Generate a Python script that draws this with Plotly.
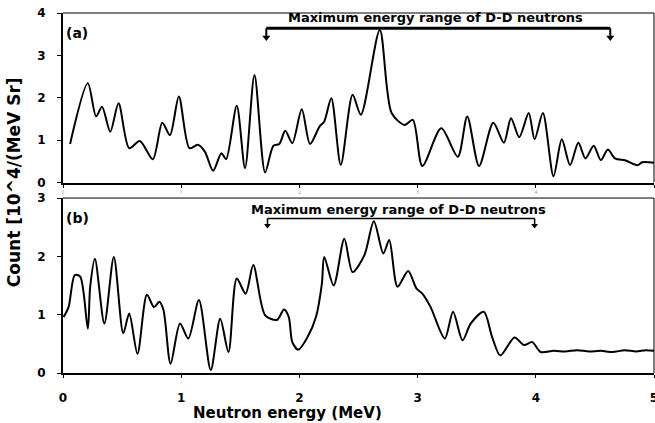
import plotly.graph_objects as go

# Panel (a) spectrum
xa = [0.06, 0.21, 0.28, 0.33, 0.40, 0.47, 0.56, 0.65, 0.76, 0.84, 0.905, 0.98, 1.07, 1.14, 1.20,
      1.27, 1.34, 1.38, 1.47, 1.54, 1.62, 1.71, 1.78, 1.83, 1.88, 1.94, 2.02, 2.09, 2.17, 2.21,
      2.27, 2.35, 2.45, 2.52, 2.68, 2.78, 2.89, 2.96, 3.04, 3.20, 3.34, 3.42, 3.52, 3.64, 3.73,
      3.79, 3.86, 3.94, 3.99, 4.06, 4.15, 4.22, 4.29, 4.36, 4.42, 4.49, 4.55, 4.61, 4.67, 4.76,
      4.86, 4.90, 5.00]
ya = [0.91, 2.34, 1.56, 1.79, 1.20, 1.87, 0.81, 0.98, 0.55, 1.41, 1.12, 2.03, 0.81, 0.89, 0.73,
      0.28, 0.69, 0.55, 1.81, 0.34, 2.54, 0.24, 0.87, 0.91, 1.22, 0.93, 1.73, 0.91, 1.32, 1.44,
      1.99, 0.42, 2.07, 1.60, 3.60, 1.64, 1.36, 1.48, 0.39, 1.28, 0.61, 1.56, 0.39, 1.41, 0.94,
      1.52, 1.07, 1.64, 1.02, 1.64, 0.15, 1.02, 0.41, 0.94, 0.57, 0.87, 0.53, 0.78, 0.57, 0.52,
      0.41, 0.48, 0.47]

# Panel (b) spectrum
xb = [0.005, 0.047, 0.10, 0.146, 0.21, 0.23, 0.27, 0.35, 0.43, 0.51, 0.56, 0.63, 0.71, 0.77,
      0.815, 0.85, 0.91, 0.99, 1.06, 1.15, 1.25, 1.33, 1.40, 1.47, 1.545, 1.61, 1.71, 1.81,
      1.87, 1.91, 1.94, 1.99, 2.07, 2.14, 2.19, 2.21, 2.29, 2.38, 2.45, 2.55, 2.63, 2.71,
      2.76, 2.83, 2.92, 2.99, 3.04, 3.11, 3.23, 3.30, 3.38, 3.45, 3.56, 3.63, 3.70, 3.82,
      3.90, 3.97, 4.04, 4.15, 4.25, 4.35, 4.45, 4.55, 4.65, 4.75, 4.85, 4.93, 5.00]
yb = [0.96, 1.13, 1.68, 1.65, 0.76, 1.48, 1.96, 0.85, 1.99, 0.68, 1.02, 0.33, 1.34, 1.13,
      1.22, 1.08, 0.16, 0.85, 0.59, 1.25, 0.05, 0.93, 0.36, 1.62, 1.36, 1.85, 0.99, 0.91,
      1.09, 0.96, 0.53, 0.40, 0.62, 0.96, 1.53, 1.99, 1.50, 2.30, 1.73, 2.02, 2.60, 2.05,
      2.28, 1.48, 1.75, 1.45, 1.36, 1.13, 0.59, 1.05, 0.56, 0.85, 1.05, 0.62, 0.30, 0.61,
      0.48, 0.53, 0.36, 0.38, 0.37, 0.39, 0.37, 0.38, 0.36, 0.39, 0.37, 0.39, 0.38]

x_ticks = [0, 1, 2, 3, 4, 5]
ya_ticks = [0, 1, 2, 3, 4]
yb_ticks = [0, 1, 2, 3]

label = "Maximum energy range of D-D neutrons"
range_a = [1.72, 4.63]
range_b = [1.73, 3.99]

fig = go.Figure()
fig.add_trace(go.Scatter(x=xa, y=ya, mode="lines", line=dict(color="black", width=2, shape="spline", smoothing=0.8),
                         xaxis="x", yaxis="y", showlegend=False))
fig.add_trace(go.Scatter(x=xb, y=yb, mode="lines", line=dict(color="black", width=2, shape="spline", smoothing=0.8),
                         xaxis="x2", yaxis="y2", showlegend=False))

# range arrows
fig.add_trace(go.Scatter(x=range_a, y=[3.42, 3.42], mode="markers",
                         marker=dict(symbol="triangle-down", size=7, color="black"),
                         xaxis="x", yaxis="y", showlegend=False))
fig.add_trace(go.Scatter(x=range_b, y=[2.53, 2.53], mode="markers",
                         marker=dict(symbol="triangle-down", size=6, color="black"),
                         xaxis="x2", yaxis="y2", showlegend=False))

shapes = []
shapes.append(dict(type="line", xref="x", yref="y", x0=range_a[0], x1=range_a[1], y0=3.64, y1=3.64,
                   line=dict(color="black", width=3)))
for xv in range_a:
    shapes.append(dict(type="line", xref="x", yref="y", x0=xv, x1=xv, y0=3.64, y1=3.40,
                       line=dict(color="black", width=2)))
shapes.append(dict(type="line", xref="x2", yref="y2", x0=range_b[0], x1=range_b[1], y0=2.65, y1=2.65,
                   line=dict(color="black", width=1.5)))
for xv in range_b:
    shapes.append(dict(type="line", xref="x2", yref="y2", x0=xv, x1=xv, y0=2.65, y1=2.50,
                       line=dict(color="black", width=1.5)))
for xr, yr in (("x domain", "y domain"), ("x2 domain", "y2 domain")):
    shapes.append(dict(type="line", xref=xr, yref=yr, x0=0, x1=1, y0=1, y1=1, line=dict(color="black", width=1)))
    shapes.append(dict(type="line", xref=xr, yref=yr, x0=1, x1=1, y0=0, y1=1, line=dict(color="black", width=1)))

bold_font = dict(family="DejaVu Sans", size=12, color="black", weight="bold")

annotations = [
    dict(text="(a)", x=0.12, y=3.53, xref="x", yref="y", showarrow=False,
         font=dict(family="DejaVu Sans", size=14, color="black", weight="bold")),
    dict(text="(b)", x=0.12, y=2.65, xref="x2", yref="y2", showarrow=False,
         font=dict(family="DejaVu Sans", size=14, color="black", weight="bold")),
    dict(text=label, x=3.15, y=3.89, xref="x", yref="y", showarrow=False,
         font=dict(family="DejaVu Sans", size=13, color="black", weight="bold")),
    dict(text=label, x=2.84, y=2.81, xref="x2", yref="y2", showarrow=False,
         font=dict(family="DejaVu Sans", size=13, color="black", weight="bold")),
    dict(text="Count [10^4/(MeV Sr]", x=0, y=0.53, xref="paper", yref="paper", xshift=-49,
         xanchor="center", yanchor="middle", textangle=-90, showarrow=False,
         font=dict(family="DejaVu Sans", size=17, color="black", weight="bold")),
    dict(text="Neutron energy (MeV)", x=1.90, y=0, xref="x2", yref="paper", yshift=-40,
         xanchor="center", yanchor="middle", showarrow=False,
         font=dict(family="DejaVu Sans", size=15, color="black", weight="bold")),
]

common = dict(showgrid=False, zeroline=False, showline=True, linecolor="black", linewidth=2,
              ticks="outside", tickcolor="black", automargin=False)

fig.update_layout(
    width=655, height=423,
    margin=dict(l=63, r=1, t=13, b=50),
    plot_bgcolor="white", paper_bgcolor="white",
    shapes=shapes, annotations=annotations,
    xaxis=dict(domain=[0, 1], range=[0, 5], anchor="y", tickvals=x_ticks, ticklen=3,
               tickfont=dict(size=5, color="#999999"), ticklabelstandoff=0, **common),
    yaxis=dict(domain=[0.529, 1], range=[0, 4], anchor="x", tickvals=ya_ticks, ticklen=4,
               tickfont=bold_font, ticklabelstandoff=9, ticklabeloverflow="allow", **common),
    xaxis2=dict(domain=[0, 1], range=[0, 5], anchor="y2", tickvals=x_ticks, ticklen=3,
                tickfont=bold_font, ticklabelstandoff=10, ticklabeloverflow="allow", **common),
    yaxis2=dict(domain=[0, 0.486], range=[0, 3], anchor="x2", tickvals=yb_ticks, ticklen=4,
                tickfont=bold_font, ticklabelstandoff=9, ticklabeloverflow="allow", **common),
)

# remove the browser's default 8px body margin so the figure fills the window exactly
fig.write_html("out.html", config={"displayModeBar": False},
               post_script="document.body.style.margin='0px';document.body.style.overflow='hidden';")
